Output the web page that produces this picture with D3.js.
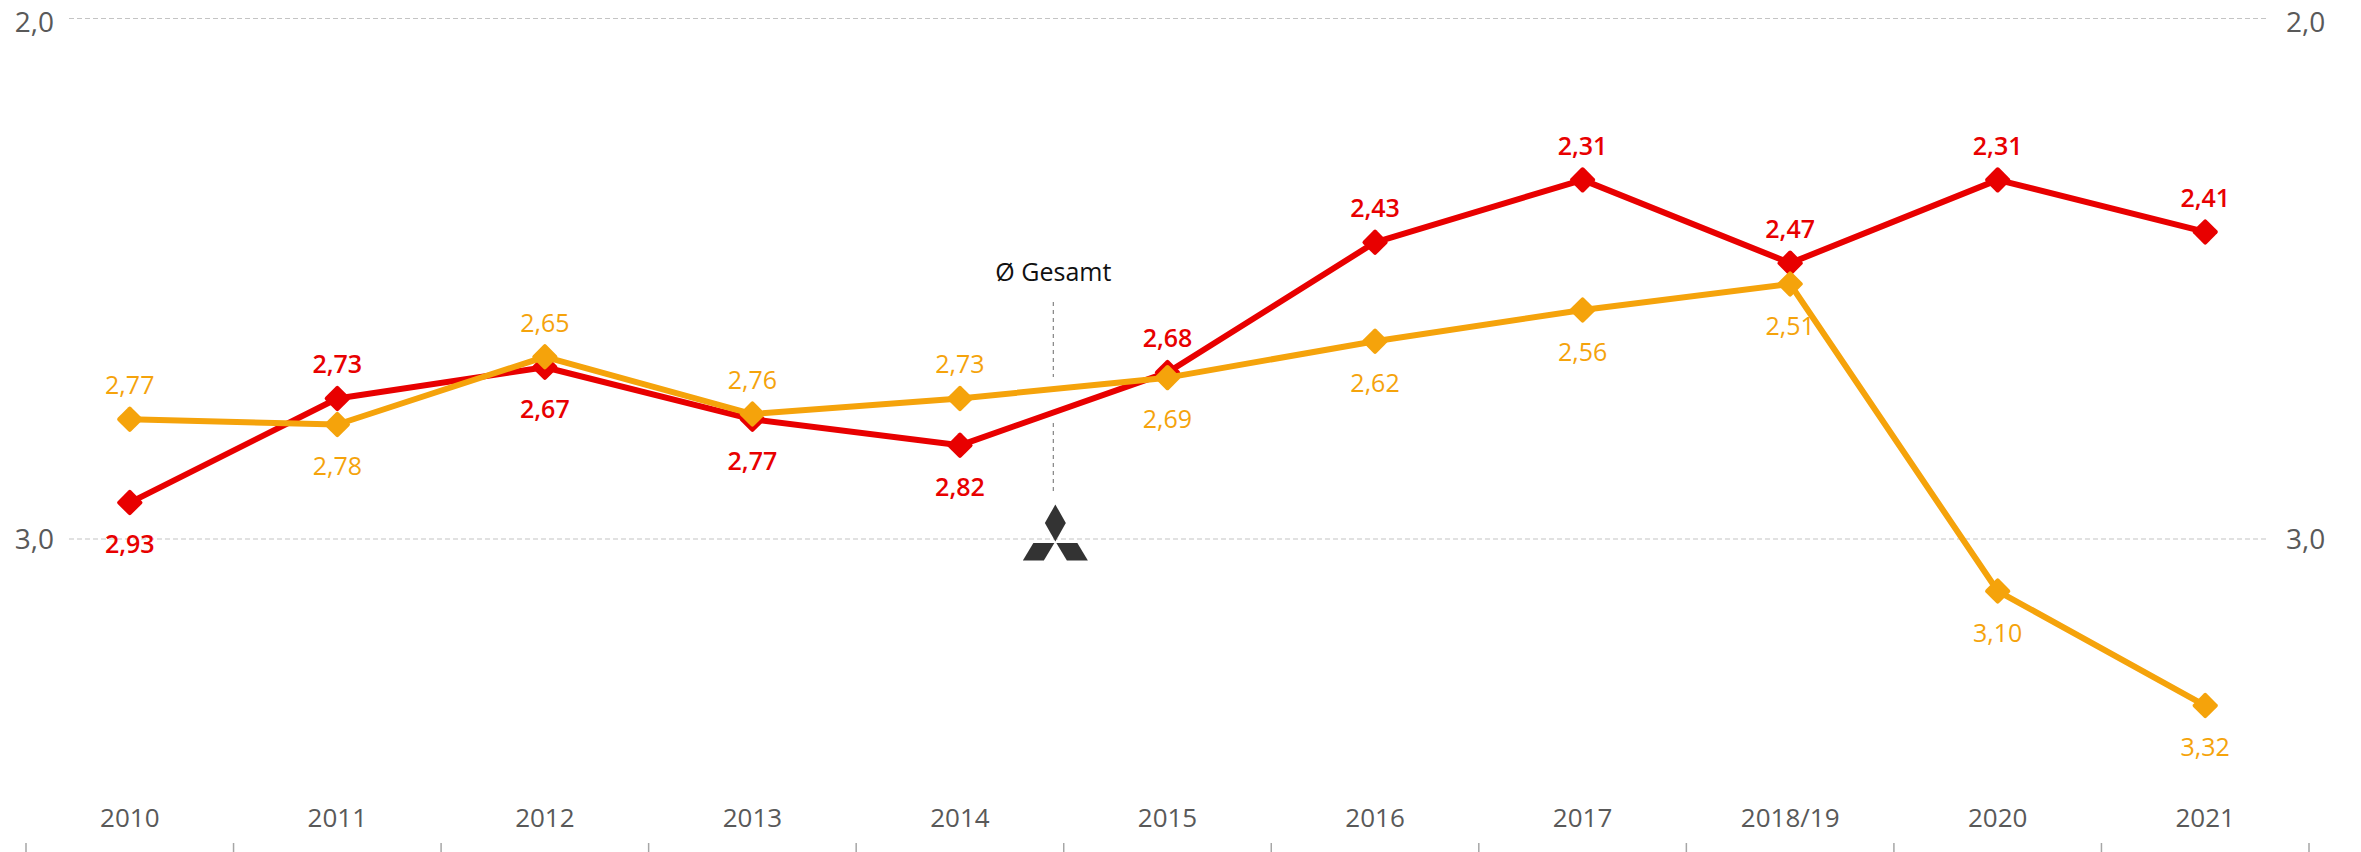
<!DOCTYPE html>
<html lang="de">
<head>
<meta charset="utf-8">
<title>Durchschnittsnoten 2010–2021</title>
<script src="https://cdn.jsdelivr.net/npm/d3@7"></script>
<style>
  html, body { margin: 0; padding: 0; background: #ffffff; }
  svg { display: block; font-family: "Open Sans", "Noto Sans", sans-serif; }
</style>
</head>
<body>
<svg id="chart" width="2361" height="852"></svg>
<script>
// Jahrgänge auf der x-Achse
const categories = ["2010", "2011", "2012", "2013", "2014", "2015", "2016", "2017", "2018/19", "2020", "2021"];

// Durchschnittsnoten je Jahrgang
const brandValues = [2.93, 2.73, 2.67, 2.77, 2.82, 2.68, 2.43, 2.31, 2.47, 2.31, 2.41];
const totalValues = [2.77, 2.78, 2.65, 2.76, 2.73, 2.69, 2.62, 2.56, 2.51, 3.10, 3.32];

// Beschriftung über (-1) oder unter (+1) dem Punkt
const brandLabelSide = [1, -1, 1, 1, 1, -1, -1, -1, -1, -1, -1];
const totalLabelSide = [-1, 1, -1, -1, -1, 1, 1, 1, 1, 1, 1];

// Werteachse (Noten, 2,0 oben)
const yTicks = [2.0, 3.0];

const W = 2361, H = 852;
const svg = d3.select("#chart");
svg.append("rect").attr("width", W).attr("height", H).attr("fill", "#ffffff");

const de = d3.formatLocale({ decimal: ",", thousands: ".", grouping: [3], currency: ["", " €"] });
const fmtTick = de.format(".1f");
const fmtVal = de.format(".2f");

const x = d3.scaleBand().domain(categories).range([26, 2309]).paddingInner(0).paddingOuter(0);
const cx = d => x(d) + x.bandwidth() / 2;
const y = d3.scaleLinear().domain([2, 3]).range([18.5, 539]);

const RED = "#E80000";
const ORANGE = "#F5A30B";
const AXIS_TEXT = "#595959";

// Horizontale Hilfslinien
const grid = svg.append("g");
grid.selectAll("line").data(yTicks).join("line")
  .attr("x1", 69).attr("x2", 2268)
  .attr("y1", d => y(d)).attr("y2", d => y(d))
  .attr("stroke", "#C4C4C4").attr("stroke-width", 1.2)
  .attr("stroke-dasharray", "5,3");

// Achsenbeschriftung links und rechts
const yLeft = d3.axisLeft(y).tickValues(yTicks).tickFormat(fmtTick).tickSize(0).tickPadding(0);
const yRight = d3.axisRight(y).tickValues(yTicks).tickFormat(fmtTick).tickSize(0).tickPadding(0);
const gl = svg.append("g").attr("transform", "translate(54,0)").call(yLeft);
const gr = svg.append("g").attr("transform", "translate(2286,0)").call(yRight);
[gl, gr].forEach(g => {
  g.select(".domain").remove();
  g.selectAll("text").attr("fill", AXIS_TEXT).attr("font-size", 28)
    .attr("font-family", "'Open Sans', sans-serif")
    .attr("dy", d => (d === yTicks[0] ? "0.45em" : "0.35em"));
});

// Kategorienachse: Beschriftung und Teilstriche zwischen den Jahrgängen
const xAxis = d3.axisBottom(x).tickSize(0).tickPadding(0);
const gx = svg.append("g").attr("transform", "translate(0,818)").call(xAxis);
gx.select(".domain").remove();
gx.selectAll("text").attr("fill", AXIS_TEXT).attr("font-size", 26)
  .attr("font-family", "'Open Sans', sans-serif").attr("dy", "0.35em");
const boundaries = categories.map(c => x(c)).concat([x(categories[categories.length - 1]) + x.bandwidth()]);
svg.append("g").selectAll("line").data(boundaries).join("line")
  .attr("x1", d => d).attr("x2", d => d)
  .attr("y1", 843).attr("y2", 852)
  .attr("stroke", "#A6A6A6").attr("stroke-width", 1.5);

// Markierung "Ø Gesamt" zwischen 2014 und 2015
const avgX = cx("2014") + x.bandwidth() * 0.45;
const avg = svg.append("g");
avg.append("text").attr("x", avgX).attr("y", 272).attr("dy", "0.35em")
  .attr("text-anchor", "middle").attr("font-size", 25).attr("fill", "#111111")
  .text("Ø Gesamt");
[[302, 377], [423, 493]].forEach(([a, b]) => {
  avg.append("line").attr("x1", avgX).attr("x2", avgX).attr("y1", a).attr("y2", b)
    .attr("stroke", "#8C8C8C").attr("stroke-width", 1.3).attr("stroke-dasharray", "4,4");
});

// Drei-Rauten-Logo
const logo = svg.append("g").attr("transform", `translate(${avgX + 2},541.5)`).attr("fill", "#333333");
const rhombi = [
  [[0, 0], [-10.5, -18.5], [0, -37], [10.5, -18.5]],
  [[1, 1.5], [22, 1.5], [32.5, 19], [11.5, 19]],
  [[-1, 1.5], [-22, 1.5], [-32.5, 19], [-11.5, 19]]
];
logo.selectAll("path").data(rhombi).join("path")
  .attr("d", d => "M" + d.map(p => p.join(",")).join("L") + "Z");

// Linien und Punkte
const line = d3.line().x((d, i) => cx(categories[i])).y(d => y(d));

function drawSeries(values, color) {
  const g = svg.append("g");
  g.append("path").datum(values).attr("d", line)
    .attr("fill", "none").attr("stroke", color).attr("stroke-width", 6)
    .attr("stroke-linejoin", "round");
  g.selectAll("rect").data(values).join("rect")
    .attr("x", -9.5).attr("y", -9.5).attr("width", 19).attr("height", 19)
    .attr("rx", 2).attr("ry", 2)
    .attr("fill", color)
    .attr("transform", (d, i) => `translate(${cx(categories[i])},${y(d)}) rotate(45)`);
}

function drawLabels(values, sides, color, weight) {
  svg.append("g").selectAll("text").data(values).join("text")
    .attr("x", (d, i) => cx(categories[i]))
    .attr("y", (d, i) => y(d) + (sides[i] > 0 ? 42 : -34))
    .attr("dy", "0.35em")
    .attr("text-anchor", "middle")
    .attr("font-size", 25)
    .attr("font-weight", weight)
    .attr("fill", color)
    .text(d => fmtVal(d));
}

drawSeries(brandValues, RED);
drawSeries(totalValues, ORANGE);
drawLabels(brandValues, brandLabelSide, RED, 600);
drawLabels(totalValues, totalLabelSide, ORANGE, 400);
</script>
</body>
</html>
